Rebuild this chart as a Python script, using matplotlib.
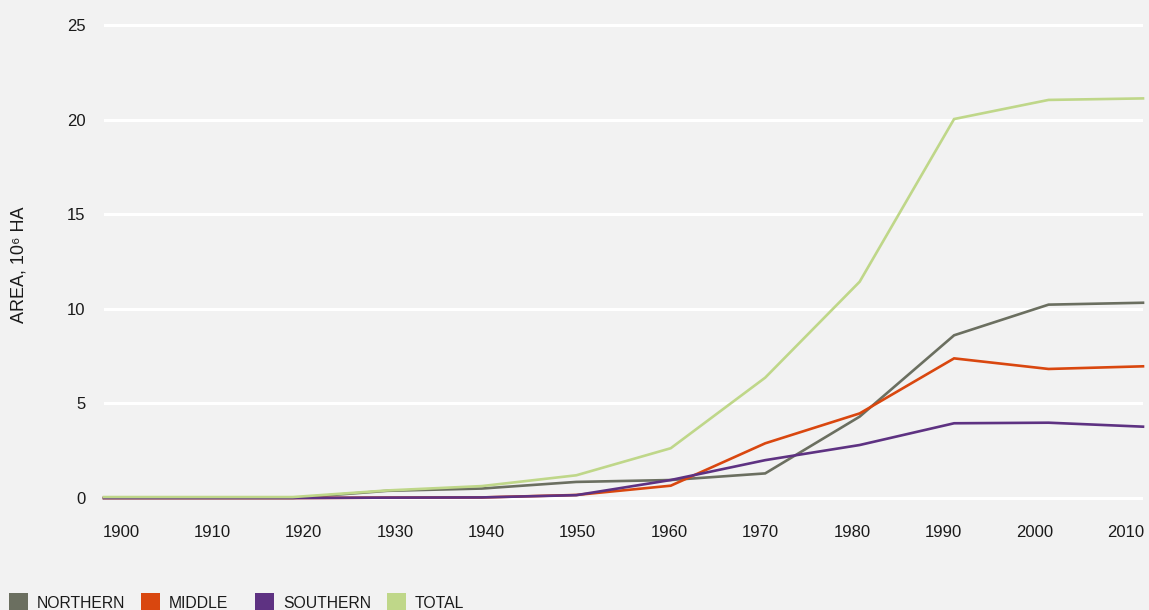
import matplotlib
matplotlib.use("Agg")
import matplotlib.pyplot as plt
from matplotlib.patches import Rectangle

plt.rcParams['font.family'] = ['Liberation Sans', 'DejaVu Sans']

# Data: area by region, in millions of hectares
years = [1900, 1910, 1920, 1930, 1940, 1950, 1960, 1970, 1980, 1990, 2000, 2010]
northern = [0.0, 0.0, 0.0, 0.38, 0.5, 0.85, 0.95, 1.3, 4.3, 8.6, 10.22, 10.32]
middle = [0.0, 0.0, 0.0, 0.02, 0.03, 0.16, 0.65, 2.89, 4.47, 7.38, 6.82, 6.96]
southern = [0.0, 0.0, 0.0, 0.02, 0.03, 0.15, 0.95, 2.0, 2.8, 3.95, 3.98, 3.77]
total = [0.05, 0.05, 0.05, 0.4, 0.63, 1.2, 2.63, 6.36, 11.43, 20.03, 21.04, 21.12]

series_names = ["NORTHERN", "MIDDLE", "SOUTHERN", "TOTAL"]
series_colors = ["#6b6f60", "#d9470f", "#5e3282", "#bfd789"]
y_ticks = [0, 5, 10, 15, 20, 25]

W, H = 1149, 610
fig = plt.figure(figsize=(W / 100, H / 100), dpi=100)
bg = "#f2f2f2"
fig.patch.set_facecolor(bg)
txt = "#1a1a1a"

# axes placement (pixels)
y0, y1 = -0.3, 25.3
ppu = (498 - 25) / 25.0
bottom_px = 498 + (0 - y0) * ppu
top_px = 25 - (y1 - 25) * ppu
left_px, right_px = 104, 1143
ax = fig.add_axes([left_px / W, 1 - bottom_px / H,
                   (right_px - left_px) / W, (bottom_px - top_px) / H])
ax.set_facecolor(bg)
ax.set_xlim(years[0], years[-1])
ax.set_ylim(y0, y1)

for s in ax.spines.values():
    s.set_visible(False)

ax.set_yticks(y_ticks)
ax.set_yticklabels([str(v) for v in y_ticks])
ax.yaxis.grid(True, color="white", linewidth=2.2)
ax.set_axisbelow(True)
ax.tick_params(axis="y", length=0, pad=13.5, labelsize=12, labelcolor=txt)

# year labels spread slightly narrower than the data span
px_per_year = (right_px - left_px) / (years[-1] - years[0])
tick_pos = [years[0] + (17 + 91.36 * i) / px_per_year for i in range(len(years))]
ax.set_xticks(tick_pos)
ax.set_xticklabels([str(y) for y in years])
ax.tick_params(axis="x", length=0, pad=15, labelsize=12, labelcolor=txt)

for vals, c in zip([northern, middle, southern, total], series_colors):
    ax.plot(years, vals, color=c, linewidth=1.9, solid_joinstyle="miter",
            clip_on=False, zorder=3)

ax.set_ylabel("AREA, 10\u2076 HA", fontsize=13, color=txt, labelpad=0)
ax.yaxis.set_label_coords(-(left_px - 28) / (right_px - left_px),
                          (bottom_px - 265) / (bottom_px - top_px))

# legend row along the bottom edge
sq_x = [9, 141, 255, 387]
for x, name, c in zip(sq_x, series_names, series_colors):
    fig.patches.append(Rectangle((x / W, 1 - 612 / H), 19 / W, 19 / H,
                                 transform=fig.transFigure, facecolor=c,
                                 edgecolor="none"))
    fig.text((x + 28) / W, 1 - 603 / H, name, fontsize=11.3, color=txt,
             va="center", ha="left")

fig.savefig("out.png", dpi=100, facecolor=bg)
